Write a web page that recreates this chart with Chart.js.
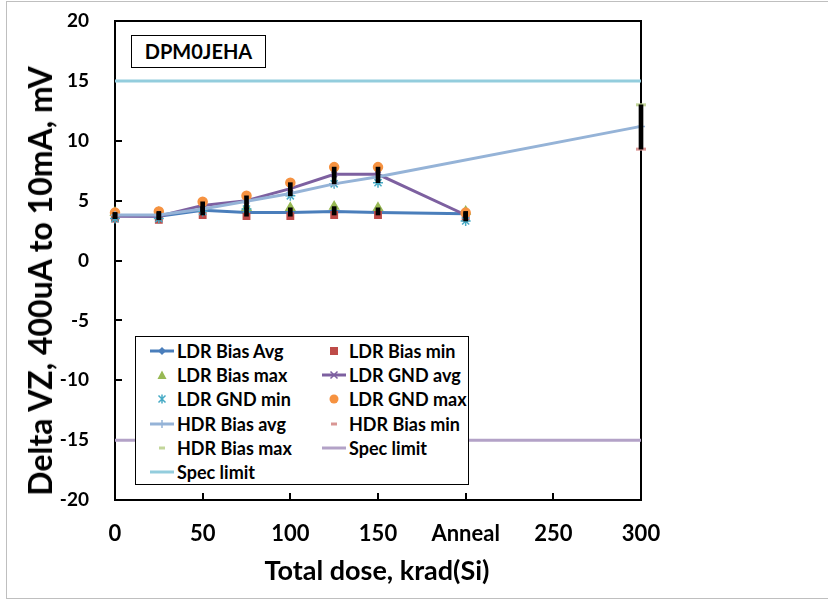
<!DOCTYPE html>
<html>
<head>
<meta charset="utf-8">
<script src="https://cdn.jsdelivr.net/npm/chart.js@4.4.1/dist/chart.umd.min.js"></script>
<style>
  html, body { margin: 0; padding: 0; background: #fff; }
  #wrap { position: relative; width: 828px; height: 604px; overflow: hidden;
          font-family: Lato, "Open Sans", sans-serif; font-weight: bold; color: #000; }
  #frame { position: absolute; left: 6px; top: 1px; width: 840px; height: 598px;
           border: 1.5px solid #bfbfbf; box-sizing: border-box; }
  canvas { position: absolute; left: 0; top: 0; }
  #tag { position: absolute; left: 131px; top: 35px; width: 135px; height: 33px;
         border: 1.5px solid #000; box-sizing: border-box; background: #fff;
         font-size: 20px; line-height: 30px; text-align: center; }
  #xtitle { position: absolute; left: 0; width: 754px; top: 554px; text-align: center;
            font-size: 27px; line-height: 32px; }
  #ytitle { position: absolute; left: 40px; top: 281px; white-space: nowrap;
            font-size: 32px; line-height: 36px;
            transform: translate(-50%, -50%) rotate(-90deg); }
  #legend { position: absolute; left: 135px; top: 336px; width: 334px; height: 149px;
            border: 1.5px solid #000; box-sizing: border-box; background: #fff;
            font-size: 18px; }
  #legend .it { position: absolute; height: 24px; display: flex; align-items: center;
                white-space: nowrap; }
  #legend svg { width: 24px; height: 14px; margin-right: 3px; flex: none; }
</style>
</head>
<body>
<div id="wrap">
  <div id="frame"></div>
  <canvas id="c" width="828" height="604"></canvas>
  <div id="tag">DPM0JEHA</div>
  <div id="legend"></div>
  <div id="xtitle">Total dose, krad(Si)</div>
  <div id="ytitle">Delta VZ, 400uA to 10mA, mV</div>
</div>
<script>
(() => {
  "use strict";

  // ── data (mV) ────────────────────────────────────────────────────────────
  const LDR_DOSE = [0, 25, 50, 75, 100, 125, 150, 200];   // 200 = "Anneal" slot
  const HDR_DOSE = [0, 25, 50, 75, 100, 125, 150, 300];
  const HDR_END = [300];

  const LDR_BIAS_AVG = [3.75, 3.7, 4.2, 4.0, 4.0, 4.1, 4.0, 3.9];
  const LDR_BIAS_MIN = [3.5, 3.4, 3.8, 3.7, 3.7, 3.8, 3.8, 3.6];
  const LDR_BIAS_MAX = [4.0, 4.0, 4.5, 4.4, 4.4, 4.5, 4.4, 4.1];
  const LDR_GND_AVG  = [3.7, 3.7, 4.6, 5.0, 6.0, 7.2, 7.2, 3.8];
  const LDR_GND_MIN  = [3.5, 3.5, 4.1, 4.3, 5.4, 6.4, 6.5, 3.3];
  const LDR_GND_MAX  = [4.0, 4.1, 4.9, 5.4, 6.5, 7.8, 7.8, 4.0];
  const HDR_BIAS_AVG = [3.8, 3.8, 4.3, 4.95, 5.6, 6.4, 7.0, 11.2];
  const HDR_BIAS_MIN = [9.3];
  const HDR_BIAS_MAX = [13.0];

  const SPEC_X = [0, 300];
  const SPEC_LO = [-15, -15];
  const SPEC_HI = [15, 15];

  const X_TICKS = [0, 50, 100, 150, 200, 250, 300];
  const X_LABELS = ["0", "50", "100", "150", "Anneal", "250", "300"];
  const Y_TICKS = [-20, -15, -10, -5, 0, 5, 10, 15, 20];

  const pts = (xs, ys) => xs.map((x, i) => ({ x, y: ys[i] }));
  const span = (xs, lo, hi) => xs.map((x, i) => ({ x, y: [lo[i], hi[i]] }));

  const line = (label, xs, ys, color, style, order) => ({
    label, data: pts(xs, ys), borderColor: color, backgroundColor: color,
    borderWidth: 3, pointStyle: style, pointRadius: style ? 4 : 0,
    pointBorderWidth: 1.5, order, clip: false,
  });
  const marks = (label, xs, ys, color, style, radius, order) => ({
    label, data: pts(xs, ys), showLine: false, borderColor: color, backgroundColor: color,
    pointStyle: style, pointRadius: radius, pointBorderWidth: style === "line" ? 3 : 1.5,
    order, clip: false,
  });
  const range = (xs, lo, hi) => ({
    type: "bar", data: span(xs, lo, hi), backgroundColor: "#000",
    barThickness: 4, grouped: false, order: 0, clip: false, legend: false,
  });

  const datasets = [
    line("LDR Bias Avg", LDR_DOSE, LDR_BIAS_AVG, "#4a7ebb", "rectRot", 16),
    marks("LDR Bias min", LDR_DOSE, LDR_BIAS_MIN, "#be4b48", "rect", 4.5, 15),
    marks("LDR Bias max", LDR_DOSE, LDR_BIAS_MAX, "#98b954", "triangle", 5, 14),
    line("LDR GND avg", LDR_DOSE, LDR_GND_AVG, "#7d60a0", "crossRot", 13),
    marks("LDR GND min", LDR_DOSE, LDR_GND_MIN, "#46aac5", "star", 5, 12),
    marks("LDR GND max", LDR_DOSE, LDR_GND_MAX, "#f69240", "circle", 4.5, 11),
    line("HDR Bias avg", HDR_DOSE, HDR_BIAS_AVG, "#95b3d7", "cross", 10),
    marks("HDR Bias min", HDR_END, HDR_BIAS_MIN, "#d99694", "line", 5, 9),
    marks("HDR Bias max", HDR_END, HDR_BIAS_MAX, "#c3d69b", "line", 5, 8),
    line("Spec limit", SPEC_X, SPEC_LO, "#b3a2c7", false, 7),
    line("Spec limit", SPEC_X, SPEC_HI, "#93cddd", false, 6),
    range(LDR_DOSE, LDR_BIAS_MIN, LDR_BIAS_MAX),
    range(LDR_DOSE, LDR_GND_MIN, LDR_GND_MAX),
    range(HDR_END, HDR_BIAS_MIN, HDR_BIAS_MAX),
  ];

  // ── plot box + inward ticks ─────────────────────────────────────────────
  const boxTicks = {
    id: "boxTicks",
    beforeDatasetsDraw(chart) {
      const { ctx, chartArea: a, scales: { x, y } } = chart;
      ctx.save();
      ctx.strokeStyle = "#000";
      ctx.lineWidth = 2;
      ctx.strokeRect(a.left, a.top, a.right - a.left, a.bottom - a.top);
      ctx.beginPath();
      y.ticks.forEach((t) => {
        const py = Math.round(y.getPixelForValue(t.value));
        ctx.moveTo(a.left, py); ctx.lineTo(a.left + 7, py);
      });
      x.ticks.forEach((t) => {
        const px = Math.round(x.getPixelForValue(t.value));
        ctx.moveTo(px, a.bottom); ctx.lineTo(px, a.bottom - 7);
      });
      ctx.stroke();
      ctx.restore();
    },
  };

  const font = (size) => ({ family: "Lato, 'Open Sans', sans-serif", size, weight: "bold" });

  new Chart(document.getElementById("c"), {
    type: "line",
    data: { datasets },
    options: {
      responsive: false, animation: false, events: [],
      layout: { padding: { left: 0, top: 21, right: 187, bottom: 0 } },
      plugins: { legend: { display: false }, tooltip: { enabled: false } },
      scales: {
        x: {
          type: "linear", min: 0, max: 300, offset: false,
          grid: { display: false, offset: false }, border: { display: false },
          afterFit: (s) => { s.height = 104; s.paddingLeft = 0; s.paddingRight = 0; },
          afterBuildTicks: (s) => { s.ticks = X_TICKS.map((value) => ({ value })); },
          ticks: {
            color: "#000", font: font(22), padding: 13, maxRotation: 0, autoSkip: false,
            callback: (v) => X_LABELS[X_TICKS.indexOf(v)] ?? "",
          },
        },
        y: {
          type: "linear", min: -20, max: 20,
          grid: { display: false }, border: { display: false },
          afterFit: (s) => { s.width = 115; s.paddingTop = 0; s.paddingBottom = 0; },
          afterBuildTicks: (s) => { s.ticks = Y_TICKS.map((value) => ({ value })); },
          ticks: { color: "#000", font: font(19), padding: 18 },
        },
      },
    },
    plugins: [boxTicks],
  });

  // ── legend (two columns, boxed) ─────────────────────────────────────────
  function icon(ds) {
    const c = ds.borderColor;
    let s = "";
    if (ds.showLine !== false) s += `<line x1="0" y1="7" x2="24" y2="7" stroke="${c}" stroke-width="3"/>`;
    switch (ds.pointStyle) {
      case "rectRot": s += `<polygon points="12,3 16,7 12,11 8,7" fill="${c}"/>`; break;
      case "rect": s += `<rect x="8" y="3" width="8" height="8" fill="${c}"/>`; break;
      case "triangle": s += `<polygon points="12,2.5 16.5,11 7.5,11" fill="${c}"/>`; break;
      case "crossRot": s += `<path d="M8.5 3.5L15.5 10.5M15.5 3.5L8.5 10.5" stroke="${c}" stroke-width="1.5"/>`; break;
      case "star": s += `<path d="M8.5 3.5L15.5 10.5M15.5 3.5L8.5 10.5M12 2.5V11.5" stroke="${c}" stroke-width="1.5"/>`; break;
      case "circle": s += `<circle cx="12" cy="7" r="4.5" fill="${c}"/>`; break;
      case "cross": s += `<path d="M12 3V11" stroke="${c}" stroke-width="1.5"/>`; break;
      case "line": s += `<line x1="9" y1="7" x2="15" y2="7" stroke="${c}" stroke-width="3"/>`; break;
    }
    return `<svg viewBox="0 0 24 14">${s}</svg>`;
  }

  const lg = document.getElementById("legend");
  lg.innerHTML = datasets.filter((d) => d.legend !== false).map((d, i) => {
    const left = i % 2 ? 186 : 14;
    const top = 2 + Math.floor(i / 2) * 24.2;
    return `<div class="it" style="left:${left}px;top:${top}px">${icon(d)}<span>${d.label}</span></div>`;
  }).join("");
})();
</script>
</body>
</html>
